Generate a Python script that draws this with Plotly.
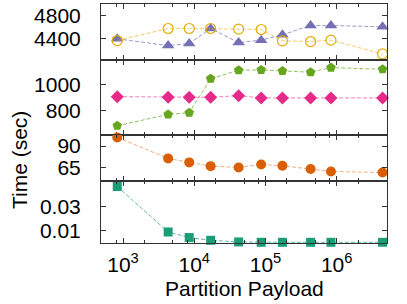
import plotly.graph_objects as go

payload = [830, 4300, 8500, 17000, 42000, 87000, 173000, 430000, 830000, 4400000]

# panel 1
tri_vals = [4400, 4285, 4320, 4577, 4337, 4378, 4469, 4629, 4629, 4606]
ocirc_vals = [4371, 4577, 4577, 4577, 4566, 4560, 4366, 4354, 4378, 4142]
# panel 2
pent_vals = [683, 771, 784, 1049, 1114, 1117, 1109, 1099, 1135, 1122]
diam_vals = [909, 904, 904, 904, 917, 899, 899, 899, 899, 899]
# panel 3
orange_vals = [100, 75.8, 71.2, 66.9, 65.4, 68.8, 67.3, 63.5, 60.8, 59.6]
# panel 4
square_vals = [0.0472, 0.0088, 0.0041, 0.0018, 0.0004, 0.0001, 0.0001, 0.0001, 0.0001, 0.0001]

x_major = [1e3, 1e4, 1e5, 1e6]
x_major_text = ["10<sup>3</sup>", "10<sup>4</sup>", "10<sup>5</sup>", "10<sup>6</sup>"]
x_minor = [500, 800, 2000, 5000, 8000, 20000, 50000, 80000, 2e5, 5e5, 8e5, 2e6, 5e6]

y1_ticks = [4400, 4800]
y2_ticks = [800, 1000]
y3_ticks = [65, 90]
y4_ticks = [0.01, 0.03]

FONT = "Liberation Sans, Arial, sans-serif"
FS = 21
AX = "#333333"

fig = go.Figure()

def add(y, axis, color, symbol, size, open_=False, line_rgba=None):
    xa = "x" if axis == 1 else f"x{axis}"
    ya = "y" if axis == 1 else f"y{axis}"
    marker = dict(color=color, symbol=symbol, size=size,
                  line=dict(width=1.2 if open_ else 0, color=color))
    fig.add_trace(go.Scatter(
        x=payload, y=y, xaxis=xa, yaxis=ya, mode="lines+markers",
        marker=marker,
        line=dict(color=line_rgba, width=1, dash="4px,2px"),
        cliponaxis=False, showlegend=False))

add(tri_vals, 1, "#7570b3", "triangle-up", 11, line_rgba="rgba(117,112,179,0.7)")
add(ocirc_vals, 1, "#e6ab02", "circle-open", 10, open_=True, line_rgba="rgba(230,171,2,0.6)")
add(pent_vals, 2, "#66a61e", "pentagon", 10, line_rgba="rgba(102,166,30,0.7)")
add(diam_vals, 2, "#e7298a", "diamond", 10, line_rgba="rgba(231,41,138,0.6)")
add(orange_vals, 3, "#d95f02", "circle", 10, line_rgba="rgba(217,95,2,0.5)")
add(square_vals, 4, "#1b9e77", "square", 9, line_rgba="rgba(27,158,119,0.7)")

domains = {1: [0.7673, 1.0], 2: [0.4503, 0.7673], 3: [0.2587, 0.4503], 4: [0.0, 0.2587]}
yranges = {1: [4045, 4996], 2: [608, 1197], 3: [49.6, 102.3], 4: [-0.0005, 0.0517]}
yticks = {1: y1_ticks, 2: y2_ticks, 3: y3_ticks, 4: y4_ticks}

layout = dict(
    template="none",
    width=407, height=304,
    margin=dict(l=101, r=20, t=4, b=61, autoexpand=False),
    paper_bgcolor="white", plot_bgcolor="white",
    font=dict(family=FONT, size=FS, color="black"),
    showlegend=False,
)

for i in range(1, 5):
    xk = "xaxis" if i == 1 else f"xaxis{i}"
    yk = "yaxis" if i == 1 else f"yaxis{i}"
    layout[xk] = dict(
        type="log", range=[2.691, 6.706], domain=[0, 1],
        anchor="y" if i == 1 else f"y{i}", automargin=False,
        showline=True, linecolor=AX, linewidth=1, mirror="allticks",
        ticks="inside", ticklen=5, tickwidth=1, tickcolor=AX,
        tickvals=x_major, ticktext=x_major_text,
        showticklabels=(i == 4), ticklabelstandoff=3,
        tickfont=dict(family=FONT, size=FS, color="black"),
        minor=dict(ticks="inside", ticklen=3, tickwidth=1, tickcolor=AX,
                   tickmode="array", tickvals=x_minor, showgrid=False),
        showgrid=False, zeroline=False,
        matches=None if i == 1 else "x",
    )
    layout[yk] = dict(
        domain=domains[i], range=yranges[i],
        anchor="x" if i == 1 else f"x{i}", automargin=False,
        showline=True, linecolor=AX, linewidth=1, mirror="allticks",
        ticks="inside", ticklen=5, tickwidth=1, tickcolor=AX,
        tickvals=yticks[i], ticktext=[str(v) for v in yticks[i]],
        ticklabelstandoff=15,
        tickfont=dict(family=FONT, size=FS, color="black"),
        showgrid=False, zeroline=False,
    )

fig.update_layout(**layout)

fig.add_annotation(text="Time (sec)", xref="paper", yref="paper",
                   x=-0.2867, y=0.347, xanchor="center", yanchor="middle",
                   textangle=-90, showarrow=False,
                   font=dict(family=FONT, size=FS, color="black"))
fig.add_annotation(text="Partition Payload", xref="paper", yref="paper",
                   x=0.5, y=-0.19, xanchor="center", yanchor="middle",
                   showarrow=False,
                   font=dict(family=FONT, size=FS, color="black"))

fig.write_html("out.html", config={"displayModeBar": False},
               post_script="document.body.style.margin='0';document.body.style.overflow='hidden';")
